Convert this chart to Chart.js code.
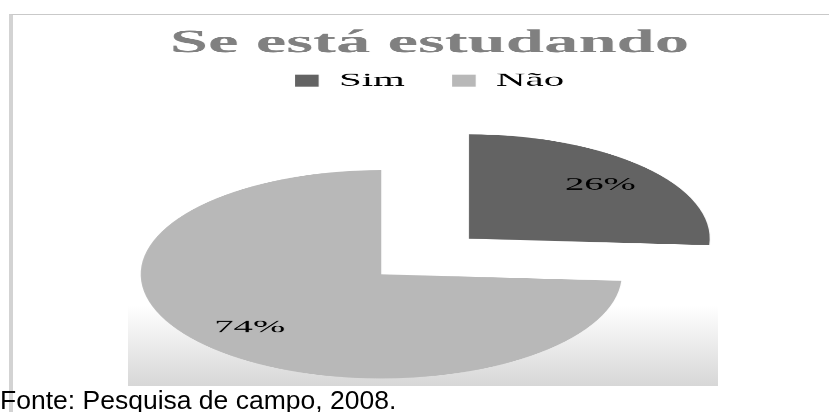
<!DOCTYPE html>
<html lang="pt">
<head>
<meta charset="utf-8">
<title>Se está estudando</title>
<script src="https://cdn.jsdelivr.net/npm/chart.js@4.4.1/dist/chart.umd.min.js"></script>
<style>
    html, body { margin: 0; padding: 0; background: #fff; }
    body { width: 829px; height: 412px; position: relative; overflow: hidden; }
    .frame {
        position: absolute; left: 9px; top: 14px; right: 0; bottom: 0;
        border-top: 1px solid #c9c9c9; border-left: 4px solid #d3d3d3;
    }
    .plot-fill {
        position: absolute; left: 128px; top: 305px; width: 590px; height: 81px;
        background: linear-gradient(to bottom, #ffffff, #d7d7d7);
    }
    /* the source chart was stretched sideways, so the whole canvas is too */
    .stretch {
        position: absolute; left: 0; top: 0; width: 386px; height: 412px;
        transform: scaleX(2.1477); transform-origin: 0 0;
    }
    .source {
        position: absolute; left: 0; top: 387px; white-space: nowrap;
        font: 26.5px Arial, "Liberation Sans", sans-serif; line-height: 26px; color: #000;
    }
</style>
</head>
<body>
<div class="frame"></div>
<div class="plot-fill"></div>
<div class="stretch"><canvas id="chart"></canvas></div>
<div class="source" id="source"></div>

<script>
const categories = ['Sim', 'Não'];
const shares = [26, 74];
const chartTitle = 'Se está estudando';
const sourceNote = 'Fonte: Pesquisa de campo, 2008.';

const STRETCH_X = 829 / 386;
const SERIF = '"Times New Roman", "Liberation Serif", serif';

// pie is an oval in the picture: squash it around its centre, then put the % labels
const ovalPie = {
    id: 'ovalPie',
    beforeDatasetsDraw(chart, args, opts) {
        const arc = chart.getDatasetMeta(0).data[0];
        const ctx = chart.ctx;
        ctx.save();
        ctx.translate(arc.x, arc.y);
        ctx.scale(1, opts.scaleY);
        ctx.translate(-arc.x, -arc.y);
    },
    afterDatasetsDraw(chart, args, opts) {
        const ctx = chart.ctx;
        ctx.restore();

        const meta = chart.getDatasetMeta(0);
        const values = chart.data.datasets[0].data;
        ctx.save();
        ctx.font = opts.font;
        ctx.fillStyle = opts.color;
        ctx.textAlign = 'center';
        ctx.textBaseline = 'middle';
        meta.data.forEach((arc, i) => {
            const mid = (arc.startAngle + arc.endAngle) / 2;
            const r = arc.outerRadius * opts.labelRadius + (arc.options.offset || 0) / 4;
            const x = arc.x + Math.cos(mid) * r;
            const y = arc.y + Math.sin(mid) * r * opts.scaleY;
            ctx.fillText(values[i] + '%', x, y);
        });
        ctx.restore();
    }
};

// title/legend are centred further right than the pie, and the pie sits low
const pieArea = {
    id: 'pieArea',
    afterLayout(chart, args, opts) {
        const area = chart.chartArea;
        area.right -= opts.trimRight;
        area.width -= opts.trimRight;
        area.bottom += opts.extendBottom;
        area.height += opts.extendBottom;
    }
};

document.getElementById('source').textContent = sourceNote;

new Chart(document.getElementById('chart'), {
    type: 'pie',
    data: {
        labels: categories,
        datasets: [{
            data: shares,
            backgroundColor: ['#636363', '#b8b8b8'],
            borderWidth: 0,
            offset: [224, 0],
            radius: 112
        }]
    },
    options: {
        responsive: true,
        maintainAspectRatio: false,
        animation: false,
        devicePixelRatio: STRETCH_X,
        layout: {
            padding: { left: 14, right: 0, top: 2, bottom: 0 }
        },
        plugins: {
            title: {
                display: true,
                text: chartTitle,
                color: '#808080',
                font: { family: SERIF, size: 32, weight: 'bold', lineHeight: 1 },
                padding: { top: 26, bottom: -11 }
            },
            legend: {
                position: 'top',
                labels: {
                    color: '#000',
                    font: { family: SERIF, size: 19 },
                    boxWidth: 11,
                    boxHeight: 12,
                    padding: 22
                }
            },
            tooltip: { enabled: false },
            ovalPie: {
                scaleY: 0.929,
                labelRadius: 0.75,
                font: '18px ' + SERIF,
                color: '#000'
            },
            pieArea: { trimRight: 45, extendBottom: 36 }
        }
    },
    plugins: [pieArea, ovalPie]
});
</script>
</body>
</html>
